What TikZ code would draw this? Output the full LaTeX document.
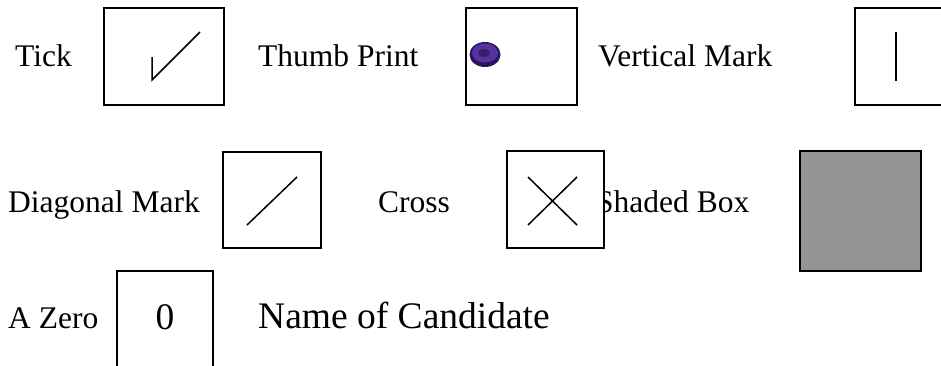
\documentclass[tikz,border=0pt]{standalone}
\usepackage{fontspec}
\setmainfont{Liberation Serif}
\usepackage{xcolor}
\definecolor{thumbink}{RGB}{88,48,160}
\definecolor{thumbdark}{RGB}{40,22,92}
\definecolor{shadegray}{RGB}{148,148,148}

\begin{document}
\begin{tikzpicture}[x=1pt, y=-1pt,
    box/.style={draw, line width=2pt, fill=white},
    penline/.style={line width=1.5pt},
    lbl/.style={anchor=base west, inner sep=0pt, font=\fontsize{31.5}{36}\selectfont},
    biglbl/.style={inner sep=0pt, font=\fontsize{37.5}{42}\selectfont}]
    \useasboundingbox (0,0) rectangle (941,365);
    \clip (0,0) rectangle (941,365);
    % first row
    \node[lbl] (tick) at (15,66) {Tick};
    \draw[box] (104,8) rectangle (224,105);
    \draw[penline] (152,57) -- (152,80) -- (200,32);
    \node[lbl] (thumb) at (258,66) {Thumb Print};
    \draw[box] (466,8) rectangle (577,105);
    \fill[thumbdark] (485,54.5) ellipse (15.5pt and 12.5pt);
    \fill[thumbink] (485,53) ellipse (13pt and 9.5pt);
    \fill[thumbdark!70!thumbink] (484,53) ellipse (6pt and 4pt);
    \node[lbl] (vertical) at (598,66) {Vertical Mark};
    \draw[box] (855,8) rectangle (960,105);
    \draw[penline] (896,32) -- (896,81);
    % second row
    \node[lbl] (diagonal) at (8,212) {Diagonal Mark};
    \draw[box] (223,152) rectangle (321,248);
    \draw[penline] (247,225) -- (297,177);
    \node[lbl] (cross) at (378,212) {Cross};
    \node[lbl] (shaded) at (596,212) {Shaded Box};
    \draw[box] (507,151) rectangle (604,248);
    \draw[penline] (528,177) -- (577,225);
    \draw[penline] (528,225) -- (577,177);
    \draw[box, fill=shadegray] (800,151) rectangle (921,271);
    % third row
    \node[lbl] (zero) at (8,328) {A Zero};
    \draw[box] (117,271) rectangle (213,380);
    \node[biglbl, anchor=base] (nought) at (165,329) {0};
    \node[biglbl, anchor=base west] (candidate) at (258,328) {Name of Candidate};
\end{tikzpicture}
\end{document}
